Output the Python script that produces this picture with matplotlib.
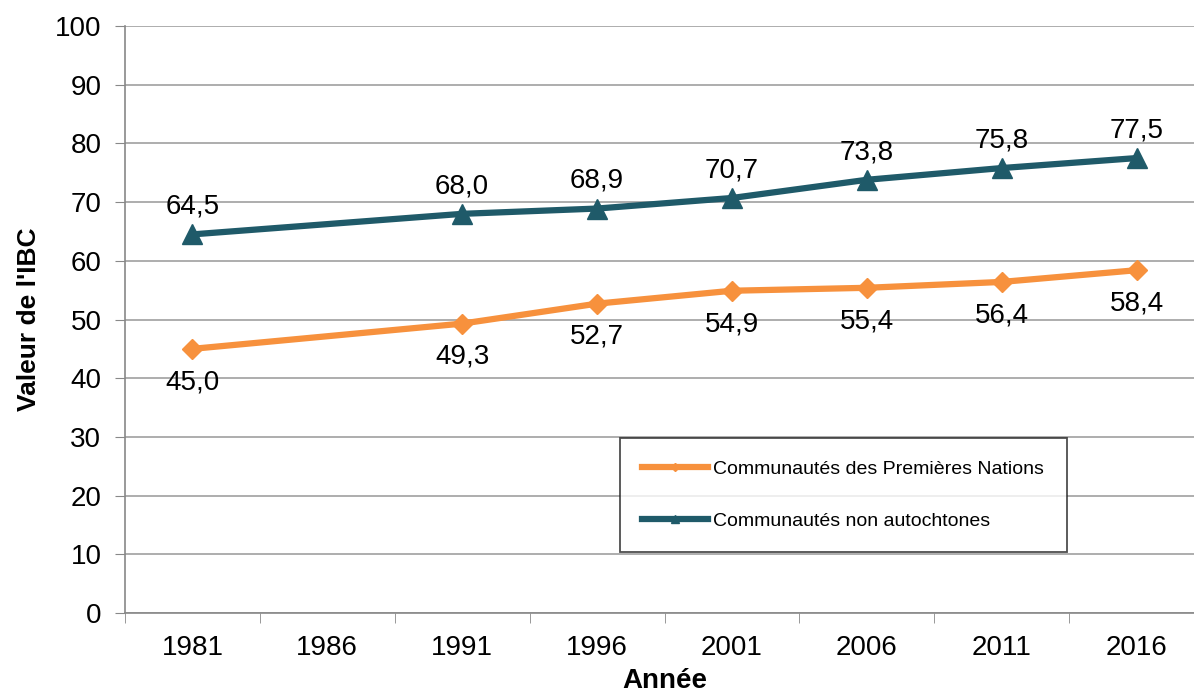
import numpy as np
import matplotlib.pyplot as plt
from matplotlib.lines import Line2D

plt.rcParams['font.family'] = ['Liberation Sans', 'DejaVu Sans']

years = ['1981', '1986', '1991', '1996', '2001', '2006', '2011', '2016']
premieres_nations = [45.0, np.nan, 49.3, 52.7, 54.9, 55.4, 56.4, 58.4]
non_autochtones = [64.5, np.nan, 68.0, 68.9, 70.7, 73.8, 75.8, 77.5]
series_names = ['Communautés des Premières Nations', 'Communautés non autochtones']

orange = '#F7913D'
teal = '#1F5A69'

fig = plt.figure(figsize=(11.94, 6.96), dpi=100)
ax = fig.add_axes([125 / 1194, 83 / 696, 1079 / 1194, 587 / 696])

x = np.arange(len(years))


def draw(values, color, marker, ms, offset):
    v = np.array(values)
    ok = ~np.isnan(v)
    ax.plot(x[ok], v[ok], color=color, lw=4.5, marker=marker, ms=ms, zorder=3)
    for xi, yi in zip(x[ok], v[ok]):
        ax.annotate(f'{yi:.1f}'.replace('.', ','), (xi, yi),
                    xytext=(0, offset), textcoords='offset points',
                    ha='center', va='center', fontsize=20)


draw(premieres_nations, orange, 'D', 10.5, -24)
draw(non_autochtones, teal, '^', 15, 20)

ax.set_xlim(-0.5, len(years) - 0.5)
ax.set_ylim(0, 100)
ax.set_yticks(range(0, 101, 10))
ax.set_xticks(x)
ax.set_xticklabels(years)
ax.set_xticks(np.arange(-0.5, len(years), 1), minor=True)
ax.tick_params(axis='x', which='major', length=0, labelsize=20, pad=16)
ax.tick_params(axis='x', which='minor', length=7, color='#888888')
ax.tick_params(axis='y', length=7, color='#888888', labelsize=20, pad=10)

ax.grid(axis='y', color='#A0A0A0', lw=1.2)
ax.set_axisbelow(True)
for s in ['top', 'right']:
    ax.spines[s].set_visible(False)
for s in ['left', 'bottom']:
    ax.spines[s].set_color('#888888')
    ax.spines[s].set_linewidth(1.2)

ax.set_ylabel("Valeur de l'IBC", fontsize=19, fontweight='bold', labelpad=10)
ax.set_xlabel('Année', fontsize=20, fontweight='bold', labelpad=5)

handles = [Line2D([], [], color=orange, lw=4.5, marker='D', ms=4),
           Line2D([], [], color=teal, lw=4.5, marker='^', ms=6)]
leg = fig.legend(handles, series_names, loc='upper left',
                 bbox_to_anchor=(620 / 1194, 1 - 438 / 696),
                 borderaxespad=0, fontsize=14,
                 frameon=True, fancybox=False, edgecolor='#222222',
                 borderpad=1.15, labelspacing=1.75, handlelength=3.4,
                 handletextpad=0.25)
leg.get_frame().set_linewidth(1.3)

fig.savefig('out.png', dpi=100)
